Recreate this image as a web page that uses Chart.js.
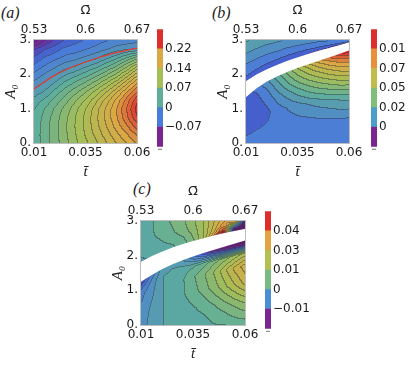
<!DOCTYPE html>
<html><head><meta charset="utf-8">
<script src="https://cdn.jsdelivr.net/npm/chart.js@4.4.0/dist/chart.umd.min.js"></script>
<style>
html,body{margin:0;padding:0;background:#fff;width:415px;height:365px;overflow:hidden;position:relative}
canvas{position:absolute}
.lab{position:absolute;font:italic 16px 'Liberation Serif','DejaVu Serif',serif;color:#222;line-height:16px}
</style></head><body>
<div class="lab" style="left:1px;top:5px">(a)</div>
<div class="lab" style="left:212px;top:5px">(b)</div>
<div class="lab" style="left:133px;top:181px">(c)</div>
<canvas id="pa" width="160" height="185" style="left:0;top:0;width:160px;height:185px"></canvas>
<canvas id="pb" width="160" height="185" style="left:212px;top:0;width:160px;height:185px"></canvas>
<canvas id="pc" width="160" height="186" style="left:107px;top:181px;width:160px;height:186px"></canvas>
<canvas id="ca" width="58" height="136" style="left:157px;top:20px;width:58px;height:136px"></canvas>
<canvas id="cb" width="44" height="136" style="left:371px;top:20px;width:44px;height:136px"></canvas>
<canvas id="cc" width="50" height="136" style="left:265px;top:202px;width:50px;height:136px"></canvas>
<script>
// ---------- axes ----------
const tNodes = [0.01,0.015,0.02,0.025,0.03,0.035,0.04,0.045,0.05,0.055,0.06];
const aNodes = [0,0.25,0.5,0.75,1,1.25,1.5,1.75,2,2.25,2.5,2.75,3];
const sBelow = [0,0.25,0.5,0.7,0.85,0.95,1];
const sAbove = [0,0.1,0.3,0.6,1];
const tTicks = [0.01,0.035,0.06];
const tTickLabels = ['0.01','0.035','0.06'];
const omegaTicks = [0.53,0.6,0.67];
const omegaTickLabels = ['0.53','0.6','0.67'];
const aTicks = [0,1,2,3];
const aTickLabels = ['0.','1.','2.','3.'];

// ---------- panel (a): value profiles along A0 for each t ----------
const fieldA = [
 [0.035,0.035,0.034,0.032,0.028,0.020,0.006,-0.010,-0.025,-0.040,-0.056,-0.075,-0.110],
 [0.050,0.051,0.051,0.049,0.044,0.032,0.016,0.002,-0.013,-0.028,-0.043,-0.060,-0.088],
 [0.066,0.067,0.067,0.065,0.060,0.049,0.034,0.016,-0.001,-0.018,-0.034,-0.050,-0.070],
 [0.082,0.084,0.085,0.083,0.078,0.066,0.051,0.033,0.013,-0.007,-0.025,-0.040,-0.056],
 [0.098,0.101,0.103,0.102,0.097,0.085,0.068,0.047,0.024,0.000,-0.020,-0.036,-0.048],
 [0.113,0.118,0.121,0.121,0.117,0.104,0.086,0.062,0.037,0.012,-0.012,-0.030,-0.042],
 [0.128,0.135,0.140,0.142,0.139,0.127,0.107,0.080,0.052,0.023,-0.004,-0.024,-0.036],
 [0.144,0.152,0.160,0.164,0.163,0.152,0.130,0.102,0.071,0.040,0.010,-0.016,-0.030],
 [0.160,0.170,0.181,0.188,0.189,0.179,0.157,0.126,0.092,0.058,0.024,-0.008,-0.026],
 [0.175,0.187,0.202,0.215,0.220,0.211,0.187,0.157,0.121,0.084,0.043,-0.002,-0.023],
 [0.190,0.205,0.225,0.245,0.255,0.245,0.218,0.190,0.155,0.115,0.065,0.002,-0.020]
];
const zeroLineA = [1.57,1.78,1.97,2.12,2.25,2.36,2.46,2.55,2.63,2.70,2.76];

// ---------- panel (b) ----------
const bandLowB  = [1.35,1.60,1.80,1.95,2.08,2.20,2.30,2.40,2.50,2.60,2.71];
const bandHighB = [1.79,1.98,2.13,2.26,2.38,2.48,2.58,2.67,2.75,2.83,2.92];
const belowB = [
 [0.002,-0.001,-0.005,-0.005,-0.005,-0.005,-0.005],
 [0.002,0.000,-0.004,-0.004,-0.002,0.001,0.003],
 [0.002,0.001,-0.002,0.002,0.007,0.012,0.014],
 [0.002,0.002,0.004,0.012,0.020,0.026,0.029],
 [0.002,0.003,0.009,0.021,0.033,0.040,0.044],
 [0.002,0.004,0.013,0.030,0.045,0.054,0.059],
 [0.002,0.004,0.017,0.038,0.055,0.066,0.073],
 [0.002,0.005,0.020,0.045,0.064,0.078,0.087],
 [0.002,0.005,0.023,0.051,0.073,0.089,0.100],
 [0.002,0.006,0.026,0.057,0.081,0.099,0.113],
 [0.002,0.006,0.028,0.062,0.088,0.108,0.125]
];
const aboveB = [
 [-0.002,-0.001,0.004,0.014,0.026],
 [-0.003,-0.002,0.003,0.012,0.023],
 [-0.004,-0.003,0.002,0.010,0.020],
 [-0.005,-0.004,0.001,0.009,0.018],
 [-0.006,-0.005,0.000,0.007,0.016],
 [-0.008,-0.006,-0.001,0.006,0.014],
 [-0.010,-0.007,-0.002,0.005,0.012],
 [-0.012,-0.008,-0.002,0.004,0.010],
 [-0.015,-0.010,-0.003,0.003,0.009],
 [-0.018,-0.012,-0.004,0.002,0.008],
 [-0.022,-0.015,-0.005,0.001,0.007]
];

// ---------- panel (c) ----------
const bandLowC  = [1.26,1.45,1.62,1.76,1.88,1.99,2.09,2.18,2.27,2.36,2.45];
const bandHighC = [1.81,1.97,2.10,2.22,2.32,2.41,2.49,2.57,2.64,2.70,2.76];
const belowC = [
 [-0.001,-0.002,-0.003,-0.004,-0.007,-0.011,-0.013],
 [0.001,0.001,0.000,-0.001,-0.002,-0.004,-0.005],
 [0.003,0.003,0.003,0.003,0.003,0.002,0.002],
 [0.004,0.004,0.004,0.004,0.004,0.003,0.003],
 [0.004,0.005,0.006,0.006,0.005,0.002,0.000],
 [0.005,0.006,0.008,0.009,0.006,-0.002,-0.006],
 [0.005,0.007,0.011,0.012,0.008,-0.006,-0.012],
 [0.006,0.009,0.014,0.016,0.011,-0.009,-0.018],
 [0.006,0.011,0.018,0.021,0.014,-0.012,-0.022],
 [0.007,0.013,0.022,0.026,0.017,-0.015,-0.025],
 [0.007,0.015,0.026,0.030,0.020,-0.018,-0.028]
];
const aboveC = [
 [0.002,0.003,0.004,0.005,0.005],
 [0.004,0.004,0.005,0.006,0.006],
 [0.005,0.005,0.006,0.007,0.008],
 [0.006,0.006,0.007,0.009,0.010],
 [0.008,0.008,0.009,0.011,0.012],
 [0.012,0.012,0.013,0.014,0.015],
 [0.020,0.019,0.019,0.019,0.019],
 [0.034,0.031,0.028,0.026,0.025],
 [0.060,0.052,0.042,0.035,0.031],
 [-0.030,-0.030,-0.020,0.010,0.036],
 [-0.030,-0.030,-0.030,-0.028,-0.020]
];

// ---------- colour bars ----------
const barEdgesA = [-0.145,-0.0725,0,0.0725,0.145,0.2175,0.29];
const barLabelsA = ['\u22120.07','0','0.07','0.14','0.22'];
const barColorsA = ['#7B2590','#4A7BD8','#5EAE9A','#A6BE56','#DBA944','#DD2E2C'];
const barEdgesB = [-0.025,0,0.025,0.05,0.075,0.1,0.125];
const barLabelsB = ['0','0.02','0.05','0.07','0.01'];
const barColorsB = ['#7B2590','#4A9ECB','#7FBF7B','#C2BD4A','#E8903A','#DE2E2C'];
const barEdgesC = [-0.025,-0.0125,0,0.0125,0.025,0.0375,0.05];
const barLabelsC = ['\u22120.01','0','0.01','0.03','0.04'];
const barColorsC = ['#7B2590','#4A8ED3','#77BA82','#B4BF52','#E1A43F','#DE2E2C'];

// ---------- rendering helpers ----------
const rainbow = [[0,'#6A1A86'],[0.1,'#7A2490'],[0.155,'#6438A8'],[0.2,'#4458C8'],[0.25,'#4A7BD8'],[0.417,'#5EAE9A'],[0.583,'#A6BE56'],[0.75,'#DBA944'],[0.917,'#DD2E2C'],[1,'#D42424']];
const rgbStops = rainbow.map(([p,h])=>[p,parseInt(h.slice(1,3),16),parseInt(h.slice(3,5),16),parseInt(h.slice(5,7),16)]);
function cmap(p){
  p=Math.max(0,Math.min(1,p));
  for(let k=0;k<rgbStops.length-1;k++){
    const a=rgbStops[k],b=rgbStops[k+1];
    if(p<=b[0]){const f=(p-a[0])/(b[0]-a[0]);return [a[1]+(b[1]-a[1])*f,a[2]+(b[2]-a[2])*f,a[3]+(b[3]-a[3])*f];}
  }
  const l=rgbStops[rgbStops.length-1];return [l[1],l[2],l[3]];
}
function colAt(col,nodes,s){
  if(s<=nodes[0])return col[0];
  for(let k=0;k<nodes.length-1;k++){
    if(s<=nodes[k+1]){const f=(s-nodes[k])/(nodes[k+1]-nodes[k]);return col[k]+(col[k+1]-col[k])*f;}
  }
  return col[col.length-1];
}
function locate(t){
  let j=0;
  while(j<tNodes.length-2 && t>tNodes[j+1]) j++;
  let f=(t-tNodes[j])/(tNodes[j+1]-tNodes[j]);
  f=Math.max(0,Math.min(1,f));
  return {j,f};
}
function sampleGrid(cols,t,A){
  const {j,f}=locate(t);
  return colAt(cols[j],aNodes,A)*(1-f)+colAt(cols[j+1],aNodes,A)*f;
}
function sampleBanded(t,A,low,high,below,above){
  const {j,f}=locate(t);
  const L=low[j]+(low[j+1]-low[j])*f, H=high[j]+(high[j+1]-high[j])*f;
  if(A<L){const s=A/L;return colAt(below[j],sBelow,s)*(1-f)+colAt(below[j+1],sBelow,s)*f;}
  if(A>H){const s=(A-H)/(3-H);return colAt(above[j],sAbove,s)*(1-f)+colAt(above[j+1],sAbove,s)*f;}
  return null;
}
function heatPlugin(P){
  return {
    id:'heat',
    beforeDatasetsDraw(chart){
      const ctx=chart.ctx, ca=chart.chartArea;
      const x0=Math.round(ca.left), y0=Math.round(ca.top);
      const w=Math.round(ca.right)-x0, h=Math.round(ca.bottom)-y0;
      const xs=chart.scales.x, ys=chart.scales.y;
      const NONE=-99999, lev=new Int32Array(w*h);
      for(let j=0;j<h;j++){
        const A=ys.getValueForPixel(y0+j+0.5);
        for(let i=0;i<w;i++){
          const t=xs.getValueForPixel(x0+i+0.5);
          const v=P.sample(t,A);
          lev[j*w+i]=(v===null)?NONE:Math.floor((v-P.base)/P.step);
        }
      }
      const img=ctx.createImageData(w,h), d=img.data;
      for(let j=0;j<h;j++)for(let i=0;i<w;i++){
        const idx=j*w+i,k=lev[idx];let r=255,g=255,b=255;
        if(k!==NONE){
          const v=P.base+(k+0.5)*P.step;
          [r,g,b]=cmap((v-P.range[0])/(P.range[1]-P.range[0]));
          const kl=i>0?lev[idx-1]:k, ku=j>0?lev[idx-w]:k;
          if((kl!==NONE&&kl!==k)||(ku!==NONE&&ku!==k)){r=r*0.58+45*0.42;g=g*0.58+45*0.42;b=b*0.58+45*0.42;}
        }
        d[4*idx]=r;d[4*idx+1]=g;d[4*idx+2]=b;d[4*idx+3]=255;
      }
      ctx.putImageData(img,x0,y0);
    },
    afterDatasetsDraw(chart){
      const ctx=chart.ctx, ca=chart.chartArea;
      ctx.save();ctx.strokeStyle='#BDBDBD';ctx.lineWidth=1;
      ctx.strokeRect(Math.round(ca.left)-0.5,Math.round(ca.top)-0.5,Math.round(ca.right)-Math.round(ca.left)+1,Math.round(ca.bottom)-Math.round(ca.top)+1);
      ctx.restore();
    }
  };
}
const tickFont={family:"'DejaVu Sans', sans-serif",size:12};
const titleFont={family:"'Liberation Serif','DejaVu Serif',serif",size:15,style:'italic'};
const titleFontUp={family:"'DejaVu Sans', sans-serif",size:13};
function pts(ys){return tNodes.map((t,i)=>({x:t,y:ys[i]}));}
function bandSets(low,high){
  return [
    {data:pts(low),showLine:true,pointRadius:0,borderWidth:0.8,borderColor:'#ffffff',fill:false},
    {data:pts(high),showLine:true,pointRadius:0,borderWidth:0.8,borderColor:'#ffffff',backgroundColor:'#ffffff',fill:'-1'}
  ];
}
function makePlot(id,P,datasets,padRight){
  new Chart(document.getElementById(id),{
    type:'scatter',
    data:{datasets},
    options:{
      responsive:false,animation:false,devicePixelRatio:1,
      layout:{padding:{left:0,top:0,bottom:0,right:padRight}},
      plugins:{legend:{display:false},tooltip:{enabled:false}},
      scales:{
        x:{type:'linear',position:'bottom',min:0.01,max:0.06,
          afterBuildTicks:s=>{s.ticks=tTicks.map(v=>({value:v}));},
          ticks:{callback:(v,i)=>tTickLabels[i],font:tickFont,color:'#1a1a1a',padding:3,maxRotation:0,autoSkip:false},
          grid:{display:false,drawTicks:false},border:{display:false},
          title:{display:true,text:'t\u0304',font:titleFont,color:'#222',padding:{top:0,bottom:4}},
          afterFit:s=>{s.height=42;}},
        x2:{type:'linear',axis:'x',position:'top',min:0.53,max:0.67,
          afterBuildTicks:s=>{s.ticks=omegaTicks.map(v=>({value:v}));},
          ticks:{callback:(v,i)=>omegaTickLabels[i],font:tickFont,color:'#1a1a1a',padding:3,maxRotation:0,autoSkip:false},
          grid:{display:false,drawTicks:false},border:{display:false},
          title:{display:true,text:'\u03A9\u0304',font:titleFontUp,color:'#222',padding:{top:3,bottom:0}},
          afterFit:s=>{s.height=40;}},
        y:{type:'linear',position:'left',min:0,max:3,
          afterBuildTicks:s=>{s.ticks=aTicks.map(v=>({value:v}));},
          ticks:{callback:(v,i)=>aTickLabels[i],font:tickFont,color:'#1a1a1a',padding:3,autoSkip:false},
          grid:{display:false,drawTicks:false},border:{display:false},
          title:{display:true,text:'A\u2080',font:titleFont,color:'#222',padding:{top:2,bottom:0}},
          afterFit:s=>{s.width=34;}}
      }
    },
    plugins:[heatPlugin(P)]
  });
}
function makeBar(id,edges,labels,colors,axisW){
  const datasets=colors.map((c,i)=>({data:[[edges[i],edges[i+1]]],backgroundColor:c,borderWidth:0,barPercentage:1,categoryPercentage:1,grouped:false}));
  new Chart(document.getElementById(id),{
    type:'bar',
    data:{labels:[''],datasets},
    options:{
      responsive:false,animation:false,devicePixelRatio:1,
      layout:{padding:{top:1,bottom:1,left:0,right:0}},
      plugins:{legend:{display:false},tooltip:{enabled:false}},
      scales:{
        x:{display:false},
        y:{position:'right',min:edges[0],max:edges[edges.length-1],
          afterBuildTicks:s=>{s.ticks=edges.slice(1,edges.length-1).map(v=>({value:v}));},
          ticks:{callback:(v,i)=>labels[i],font:tickFont,color:'#1a1a1a',padding:2,autoSkip:false},
          grid:{display:false,drawTicks:false},border:{display:false},
          afterFit:s=>{s.width=axisW;}}
      }
    },
    plugins:[{id:'dash',afterDraw(chart){const ctx=chart.ctx,ca=chart.chartArea;ctx.save();ctx.strokeStyle='#777';ctx.lineWidth=1;ctx.beginPath();ctx.moveTo(ca.left+1,ca.bottom+2.5);ctx.lineTo(ca.right-1,ca.bottom+2.5);ctx.stroke();ctx.restore();}}]
  });
}

makePlot('pa',{sample:(t,A)=>sampleGrid(fieldA,t,A),base:0,step:0.0145,range:[-0.145,0.29]},
  [{data:pts(zeroLineA),showLine:true,pointRadius:0,borderWidth:1.2,borderColor:'#E23B30',tension:0.3}],23);
makePlot('pb',{sample:(t,A)=>sampleBanded(t,A,bandLowB,bandHighB,belowB,aboveB),base:0,step:0.025/3,range:[-0.04,0.129]},
  bandSets(bandLowB,bandHighB),23);
makePlot('pc',{sample:(t,A)=>sampleBanded(t,A,bandLowC,bandHighC,belowC,aboveC),base:0,step:0.003125,range:[-0.025,0.05]},
  bandSets(bandLowC,bandHighC),22);
makeBar('ca',barEdgesA,barLabelsA,barColorsA,52);
makeBar('cb',barEdgesB,barLabelsB,barColorsB,38);
makeBar('cc',barEdgesC,barLabelsC,barColorsC,44);
</script>
</body></html>
